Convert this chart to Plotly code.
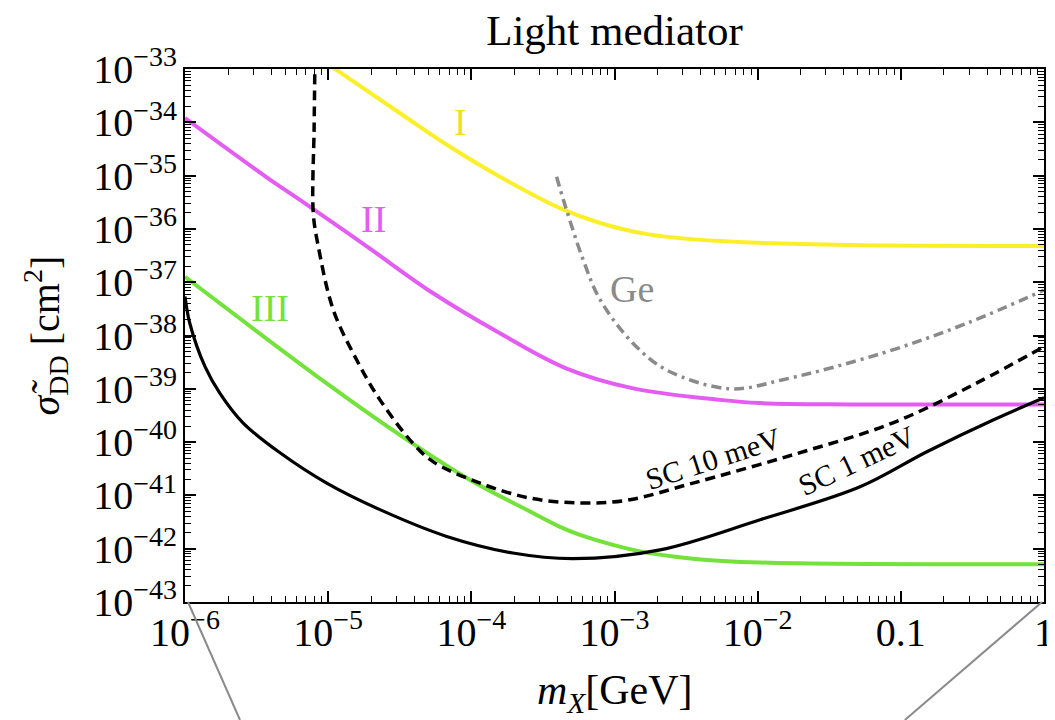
import plotly.graph_objects as go

# ---- data ----
x_tick_vals = [1e-6, 1e-5, 1e-4, 1e-3, 1e-2, 0.1, 1]
x_tick_text = ["10<sup>−6</sup>", "10<sup>−5</sup>", "10<sup>−4</sup>", "10<sup>−3</sup>",
               "10<sup>−2</sup>", "0.1", "1"]
y_tick_vals = [1e-43, 1e-42, 1e-41, 1e-40, 1e-39, 1e-38, 1e-37, 1e-36, 1e-35, 1e-34, 1e-33]
y_tick_text = ["10<sup>−43</sup>", "10<sup>−42</sup>", "10<sup>−41</sup>", "10<sup>−40</sup>",
               "10<sup>−39</sup>", "10<sup>−38</sup>", "10<sup>−37</sup>", "10<sup>−36</sup>",
               "10<sup>−35</sup>", "10<sup>−34</sup>", "10<sup>−33</sup>"]

# Region I (yellow)
m_I = [1.02e-5, 1.148e-5, 3.18e-5, 7.10e-5, 1.585e-4, 4.16e-4, 7.93e-4, 1.77e-3, 5.46e-3, 4.42e-2, 1.0]
s_I = [1.17e-33, 9.55e-34, 1.48e-34, 3.47e-35, 9.5e-36, 2.45e-36, 1.29e-36, 7.8e-37, 5.9e-37, 5.0e-37, 4.8e-37]

# Region II (magenta)
m_II = [1e-6, 3.72e-6, 6.35e-6, 1.86e-5, 5.42e-5, 1.585e-4, 4.63e-4, 1.35e-3, 5.46e-3, 1.04e-2, 4.42e-2, 1.0]
s_II = [1.2e-34, 9.3e-36, 3.5e-36, 4.7e-37, 6.2e-38, 1.1e-38, 2.4e-39, 1.02e-39, 6.2e-40, 5.4e-40, 5.1e-40, 5.1e-40]

# Region III (green)
m_III = [1e-6, 9.77e-6, 3.18e-5, 9.8e-5, 2.57e-4, 4.16e-4, 5.74e-4, 1.51e-3, 3.53e-3, 1.04e-2, 1.0]
s_III = [1.26e-37, 1.26e-39, 1.35e-40, 1.95e-41, 5.0e-42, 2.57e-42, 1.82e-42, 8.9e-43, 6.5e-43, 5.5e-43, 5.1e-43]

# SC 1 meV (black solid)
m_sc1 = [1e-6, 1.08e-6, 1.38e-6, 1.75e-6, 2.54e-6, 4.61e-6, 9.77e-6, 2.30e-5, 6.73e-5, 1.95e-4,
         5.13e-4, 2.08e-3, 1.04e-2, 5.19e-2, 0.152, 0.441, 1.0]
s_sc1 = [5.4e-38, 1.7e-38, 2.6e-39, 8.3e-40, 2.3e-40, 6.3e-41, 1.7e-41, 5.4e-42, 1.7e-42, 8.3e-43,
         6.5e-43, 9.5e-43, 3.5e-42, 1.45e-41, 6.6e-41, 2.6e-40, 6.8e-40]

# SC 10 meV (black dashed)
m_sc10 = [8.09e-6, 7.98e-6, 7.87e-6, 8.53e-6, 1.087e-5, 1.58e-5, 2.30e-5, 3.91e-5, 5.40e-5, 1.15e-4,
          2.57e-4, 5.74e-4, 1.22e-3, 3.53e-3, 1.77e-2, 8.81e-2, 0.340, 1.0]
s_sc10 = [1.6e-33, 8.3e-35, 2.0e-36, 4.7e-37, 3.0e-38, 3.5e-39, 6.2e-40, 9.5e-41, 4.3e-41, 1.7e-41,
          8.9e-42, 7.2e-42, 8.1e-42, 1.7e-41, 5.8e-41, 2.3e-40, 1.29e-39, 6.2e-39]

# Ge (gray dash-dot)
m_ge = [3.94e-4, 4.63e-4, 6.05e-4, 7.93e-4, 1.35e-3, 2.32e-3, 6.4e-3, 1.50e-2, 7.50e-2, 0.290, 1.0]
s_ge = [9.5e-36, 2.24e-36, 2.6e-37, 4.7e-38, 7.1e-39, 2.24e-39, 1.0e-39, 1.48e-39, 4.7e-39, 1.7e-38, 7.1e-38]

FONT = "Liberation Serif"

fig = go.Figure()

def add(m, s, color, width, dash="solid", smooth=1.0):
    fig.add_trace(go.Scatter(x=m, y=s, mode="lines",
                             line=dict(color=color, width=width, dash=dash,
                                       shape="spline", smoothing=smooth),
                             hoverinfo="skip", showlegend=False))

add(m_I, s_I, "#fbef2a", 4)
add(m_II, s_II, "#e35df2", 4)
add(m_III, s_III, "#73e23a", 4)
add(m_ge, s_ge, "#8a8a8a", 3.5, dash="10px,5px,3px,5px")
add(m_sc10, s_sc10, "black", 3.5, dash="10px,6px")
add(m_sc1, s_sc1, "black", 3.2)

axis_common = dict(
    type="log", showgrid=False, zeroline=False, automargin=False,
    showline=True, linecolor="black", linewidth=2, mirror="allticks",
    ticks="inside", ticklen=11, tickwidth=1.5, tickcolor="black",
    tickmode="array",
    tickfont=dict(family=FONT, size=40, color="black"),
    minor=dict(ticks="inside", ticklen=6, tickwidth=1.2, tickcolor="black", dtick="D1", showgrid=False),
)

# the page body adds an 8 px offset, so the figure is sized to the visible area
fig.update_layout(
    width=1047, height=712,
    margin=dict(l=177, r=11, t=61, b=118),
    paper_bgcolor="white", plot_bgcolor="white",
    xaxis=dict(axis_common, range=[-6, 0], tickvals=x_tick_vals, ticktext=x_tick_text,
               ticklabelstandoff=-6),
    yaxis=dict(axis_common, range=[-43, -33], tickvals=y_tick_vals, ticktext=y_tick_text,
               ticklabelstandoff=-2),
    title=dict(text="Light mediator", x=0.5, xref="paper", xanchor="center",
               y=0.969, yref="container", yanchor="middle",
               font=dict(family=FONT, size=43, color="black")),
)

annos = [
    dict(x=-4.079, y=-33.99, text="I", color="#f0e020", size=38, angle=0),
    dict(x=-4.680, y=-35.82, text="II", color="#e35df2", size=38, angle=0),
    dict(x=-5.406, y=-37.48, text="III", color="#73e23a", size=38, angle=0),
    dict(x=-2.878, y=-37.13, text="Ge", color="#8a8a8a", size=38, angle=0),
    dict(x=-2.31, y=-40.30, text="SC 10 meV", color="black", size=30, angle=-18),
    dict(x=-1.308, y=-40.34, text="SC 1 meV", color="black", size=30, angle=-25),
]
for a in annos:
    fig.add_annotation(x=a["x"], y=a["y"], xref="x", yref="y", text=a["text"],
                       showarrow=False, textangle=a["angle"],
                       xanchor="center", yanchor="middle",
                       font=dict(family=FONT, size=a["size"], color=a["color"]))

fig.add_annotation(x=0.5, y=-0.171, xref="paper", yref="paper",
                   xanchor="center", yanchor="middle",
                   text="<i>m</i><sub><i>X</i></sub>[GeV]", showarrow=False,
                   font=dict(family=FONT, size=42, color="black"))
fig.add_annotation(x=-0.163, y=0.5, xref="paper", yref="paper", textangle=-90,
                   xanchor="center", yanchor="middle",
                   text="<i>σ̃</i><sub>DD</sub> [cm<sup>2</sup>]", showarrow=False,
                   font=dict(family=FONT, size=40, color="black"))

# zoom indicator lines from the bottom corners
fig.add_shape(type="line", xref="paper", yref="paper", x0=0.0035, y0=0, x1=0.064, y1=-0.2214,
              line=dict(color="#8a8a8a", width=2))
fig.add_shape(type="line", xref="paper", yref="paper", x0=0.9977, y0=0, x1=0.838, y1=-0.2214,
              line=dict(color="#8a8a8a", width=2))

fig.write_html("out.html")
